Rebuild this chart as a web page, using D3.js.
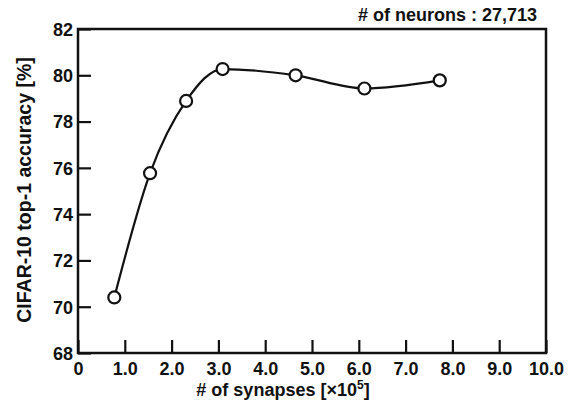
<!DOCTYPE html>
<html>
<head>
<meta charset="utf-8">
<script src="https://cdnjs.cloudflare.com/ajax/libs/d3/7.8.5/d3.min.js"></script>
<style>
  body { margin: 0; background: #fff; }
  text { font-family: "Liberation Sans", Arial, sans-serif; font-weight: bold; fill: #111; }
</style>
</head>
<body>
<script>
// data
const synapses = [0.776, 1.54, 2.31, 3.09, 4.65, 6.12, 7.73];   // x 10^5
const accuracy = [70.4, 75.77, 78.89, 80.27, 80.0, 79.43, 79.78]; // %
const xTicks = [0, 1, 2, 3, 4, 5, 6, 7, 8, 9, 10];
const yTicks = [68, 70, 72, 74, 76, 78, 80, 82];

let svg = d3.select('body')
  .append('svg')
  .attr('width', 572)
  .attr('height', 405);

const plot = { left: 78, right: 546, top: 29, bottom: 353 };

let xScale = d3.scaleLinear().domain([0, 10]).range([plot.left, plot.right]);
let yScale = d3.scaleLinear().domain([68, 82]).range([plot.bottom, plot.top]);

// x axis (ticks point inward)
let xAxis = d3.axisBottom(xScale)
  .tickValues(xTicks)
  .tickSize(-13)
  .tickPadding(6)
  .tickFormat(d => d === 0 ? '0' : d.toFixed(1));
let gx = svg.append('g')
  .attr('transform', 'translate(0,' + plot.bottom + ')')
  .call(xAxis);

let yAxis = d3.axisLeft(yScale)
  .tickValues(yTicks)
  .tickSize(-13)
  .tickPadding(5)
  .tickFormat(d3.format('d'));
let gy = svg.append('g')
  .attr('transform', 'translate(' + plot.left + ',0)')
  .call(yAxis);

[gx, gy].forEach(g => {
  g.select('.domain').remove();
  g.selectAll('line').attr('stroke', '#111').attr('stroke-width', 2.2);
  g.selectAll('text')
    .style('font-size', '18px')
    .style('font-family', '"Liberation Sans", Arial, sans-serif')
    .style('font-weight', 'bold')
    .attr('fill', '#111');
});
gx.selectAll('text').attr('dy', '0.9em');
gy.selectAll('text').attr('dy', '0.35em');

// frame
svg.append('rect')
  .attr('x', plot.left)
  .attr('y', plot.top)
  .attr('width', plot.right - plot.left)
  .attr('height', plot.bottom - plot.top)
  .attr('fill', 'none')
  .attr('stroke', '#111')
  .attr('stroke-width', 2.5);

// curve
let pts = synapses.map((s, i) => [s, accuracy[i]]);
let line = d3.line()
  .x(d => xScale(d[0]))
  .y(d => yScale(d[1]))
  .curve(d3.curveMonotoneX);

svg.append('path')
  .datum(pts)
  .attr('d', line)
  .attr('fill', 'none')
  .attr('stroke', '#111')
  .attr('stroke-width', 2.2);

svg.selectAll('.dot')
  .data(pts)
  .enter()
  .append('circle')
  .attr('class', 'dot')
  .attr('cx', d => xScale(d[0]))
  .attr('cy', d => yScale(d[1]))
  .attr('r', 6)
  .attr('fill', 'white')
  .attr('stroke', '#111')
  .attr('stroke-width', 2.2);

// labels
svg.append('text')
  .attr('x', 537)
  .attr('y', 21)
  .attr('text-anchor', 'end')
  .style('font-size', '18px')
  .text('# of neurons : 27,713');

let xl = svg.append('text')
  .attr('x', 283)
  .attr('y', 396)
  .attr('text-anchor', 'middle')
  .style('font-size', '18px');
xl.append('tspan').text('# of synapses [\u00d710');
xl.append('tspan').attr('dy', -7).style('font-size', '12px').text('5');
xl.append('tspan').attr('dy', 7).text(']');

svg.append('text')
  .attr('transform', 'translate(31,190)rotate(-90)')
  .attr('text-anchor', 'middle')
  .style('font-size', '19.5px')
  .text('CIFAR-10 top-1 accuracy [%]');
</script>
</body>
</html>
